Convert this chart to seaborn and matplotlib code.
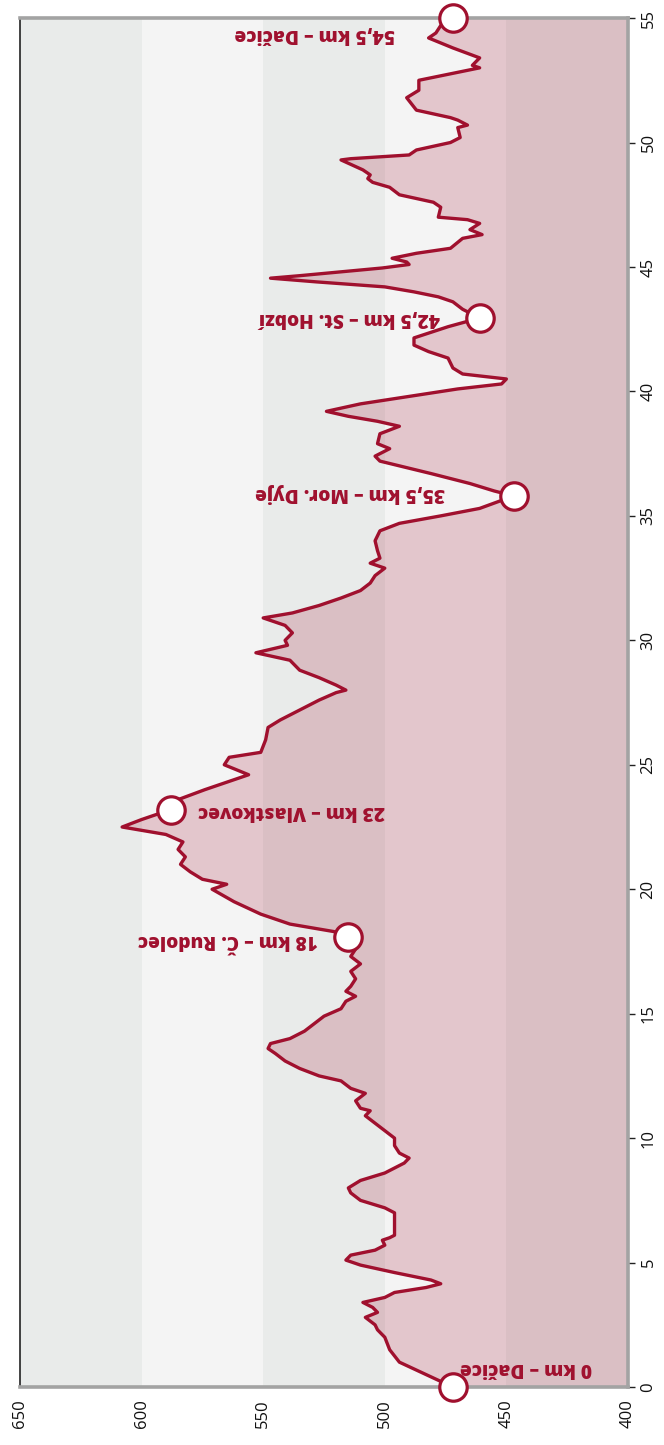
import matplotlib
matplotlib.use("Agg")
import matplotlib.pyplot as plt
import seaborn as sns

# ------------------------------------------------------------
# DATA  (distance along the route in km, elevation in m a.s.l.)
# ------------------------------------------------------------
distance_km = [
    0.0, 0.5, 1.0, 1.5, 2.0, 2.3, 2.5, 2.8, 3.0, 3.2, 3.4, 3.6, 3.8, 4.0,
    4.15, 4.3, 4.6, 4.9, 5.1, 5.3, 5.5, 5.7, 5.9, 6.0, 6.1, 7.0, 7.2, 7.5,
    7.8, 8.0, 8.3, 8.6, 9.0, 9.2, 9.4, 9.7, 10.0, 10.3, 10.6, 10.9, 11.1,
    11.2, 11.5, 11.8, 12.0, 12.3, 12.5, 12.8, 13.1, 13.4, 13.6, 13.8, 14.0,
    14.3, 14.6, 14.9, 15.2, 15.5, 15.7, 15.9, 16.1, 16.4, 16.7, 17.0, 17.3,
    17.6, 18.1, 18.3, 18.6, 19.0, 19.5, 20.0, 20.2, 20.4, 20.7, 21.0, 21.3,
    21.6, 21.9, 22.2, 22.5, 22.8, 23.2, 23.6, 24.0, 24.3, 24.6, 25.0, 25.3,
    25.5, 26.0, 26.5, 26.8, 27.2, 27.6, 27.9, 28.0, 28.2, 28.5, 28.8, 29.2,
    29.5, 29.8, 30.0, 30.3, 30.6, 30.9, 31.1, 31.4, 31.7, 32.0, 32.3, 32.6,
    32.9, 33.1, 33.3, 33.6, 34.0, 34.4, 34.7, 35.0, 35.3, 35.8, 36.0, 36.3,
    36.7, 37.2, 37.4, 37.7, 37.9, 38.3, 38.6, 38.8, 39.0, 39.2, 39.5, 39.8,
    40.1, 40.3, 40.5, 40.7, 40.94, 41.34, 41.6, 41.86, 42.15, 42.6, 42.95,
    43.3, 43.6, 43.8, 44.0, 44.2, 44.4, 44.55, 44.65, 44.96, 45.1, 45.2,
    45.35, 45.55, 45.75, 46.15, 46.3, 46.5, 46.75, 46.9, 47.0, 47.4, 47.6,
    47.9, 48.2, 48.4, 48.55, 48.7, 48.9, 49.3, 49.35, 49.5, 49.7, 50.0,
    50.2, 50.6, 50.7, 50.9, 51.0, 51.3, 51.8, 52.1, 52.5, 53.0, 53.1, 53.4,
    53.8, 54.2, 54.4, 54.7, 55.0,
]
elevation_m = [
    472, 483, 494, 498, 500, 503, 504, 508, 503, 505, 509, 500, 496, 483,
    477, 481, 496, 510, 516, 514, 504, 500, 501, 498, 496, 496, 500, 510,
    514, 515, 510, 500, 492, 490, 494, 496, 496, 500, 504, 508, 506,
    510, 512, 508, 514, 518, 527, 535, 541, 545, 548, 547, 539,
    533, 529, 525, 518, 516, 512, 516, 514, 512, 514, 510, 514,
    512, 515, 521, 539, 551, 562, 571, 565, 575, 580, 584, 582,
    585, 583, 590, 608, 600, 588, 585, 574, 565, 556, 566, 564,
    551, 549, 548, 543, 535, 527, 520, 516, 520, 527, 535, 539,
    553, 540, 541, 538, 541, 550, 538, 527, 518, 510, 506, 504,
    500, 506, 502, 503, 504, 502, 494, 477, 461, 447, 455, 465,
    481, 502, 504, 498, 503, 502, 494, 503, 515, 524, 510, 490,
    470, 452, 450, 468, 472, 474, 482, 488, 488, 474, 461,
    468, 472, 478, 488, 500, 528, 547, 535, 501, 490, 491,
    497, 487, 473, 468, 460, 465, 461, 466, 478, 477, 480,
    494, 498, 505, 507, 506, 509, 518, 514, 490, 487, 473,
    469, 470, 466, 470, 473, 487, 491, 486, 486, 461, 464, 461,
    472, 482, 479, 477, 472,
]

# stops shown on the profile
waypoint_km = [0.0, 18.1, 23.2, 35.8, 42.95, 55.0]
waypoint_elev = [472, 515, 588, 447, 461, 472]
waypoint_labels = [
    "0 km – Dačice",
    "18 km – Č. Rudolec",
    "23 km – Vlastkovec",
    "35,5 km – Mor. Dyje",
    "42,5 km – St. Hobzí",
    "54,5 km – Dačice",
]
# where each label sits (right edge of the upside-down text)
label_elev = [414.8, 527.5, 500.0, 475.2, 477.3, 495.8]
label_km = [0.76, 17.96, 23.14, 35.92, 42.95, 54.36]

elev_ticks = [650, 600, 550, 500, 450, 400]
km_ticks = [0, 5, 10, 15, 20, 25, 30, 35, 40, 45, 50, 55]

# ------------------------------------------------------------
# STYLE
# ------------------------------------------------------------
RED = "#a0102e"
BAND_DARK = "#e9ebea"
BAND_LIGHT = "#f4f4f4"
FRAME = "#a3a3a3"

sns.set_style("white")
plt.rcParams["font.family"] = ["Open Sans", "DejaVu Sans"]

fig = plt.figure(figsize=(6.64, 14.45), dpi=100)
ax = fig.add_axes([0.0301, 0.0401, 0.9157, 0.9474])

# alternating elevation bands
for i in range(len(elev_ticks) - 1):
    ax.axvspan(elev_ticks[i + 1], elev_ticks[i],
               color=BAND_DARK if i % 2 == 0 else BAND_LIGHT, lw=0, zorder=0)

# filled profile
ax.fill_betweenx(distance_km, elevation_m, 400, color=RED, alpha=0.2, lw=0, zorder=1)
sns.lineplot(x=elevation_m, y=distance_km, sort=False, estimator=None,
             color=RED, lw=2.4, ax=ax, zorder=3)

# stops
sns.scatterplot(x=waypoint_elev, y=waypoint_km, s=390, color="white",
                edgecolor=RED, linewidth=2.3, ax=ax, zorder=5, clip_on=False)

for e, d, txt in zip(label_elev, label_km, waypoint_labels):
    ax.text(e, d, txt, rotation=180, ha="right", va="center",
            fontsize=13.8, fontweight="heavy", color=RED, zorder=6)

ax.set_xlim(650, 400)
ax.set_ylim(0, 55)
ax.set_xticks(elev_ticks)
ax.set_yticks(km_ticks)
ax.yaxis.tick_right()
ax.tick_params(axis="both", length=5, width=1, color="#222222",
               labelsize=12, labelcolor="#111111", pad=4)
ax.tick_params(axis="x", labelrotation=90)
ax.tick_params(axis="y", labelrotation=90)
for lab in ax.get_yticklabels():
    lab.set_va("center")
ax.set_xlabel("")
ax.set_ylabel("")

ax.spines["left"].set_color("#222222")
ax.spines["left"].set_linewidth(1.2)
for side in ["top", "right", "bottom"]:
    ax.spines[side].set_color(FRAME)
    ax.spines[side].set_linewidth(2.6)

fig.savefig("out.png", dpi=100)
